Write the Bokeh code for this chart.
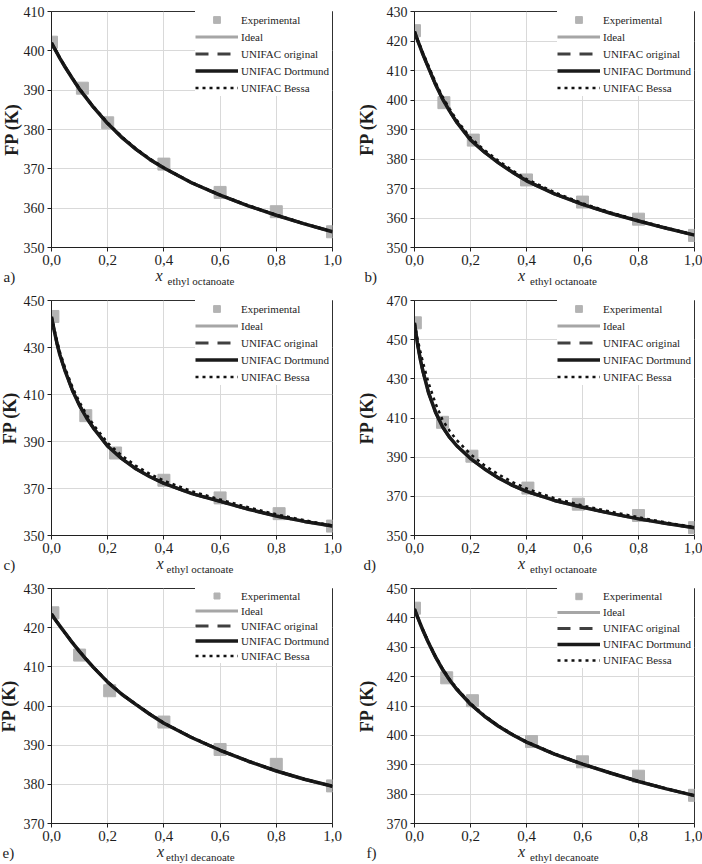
import math
from bokeh.plotting import figure
from bokeh.layouts import gridplot
from bokeh.models import (Range1d, FixedTicker, CustomJSTickFormatter, Label,
                          Legend, LegendItem)
from bokeh.embed import file_html
from bokeh.resources import INLINE

# ---------------- data ----------------
x_ticks = [0.0, 0.2, 0.4, 0.6, 0.8, 1.0]
x_calc = [0.0, 0.01, 0.02, 0.03, 0.05, 0.075, 0.1, 0.125, 0.15, 0.2, 0.25,
          0.3, 0.35, 0.4, 0.5, 0.6, 0.7, 0.8, 0.9, 1.0]

# a)
a_yticks = [350, 360, 370, 380, 390, 400, 410]
a_exp_x = [0.0, 0.11, 0.2, 0.4, 0.6, 0.8, 1.0]
a_exp_y = [402.2, 390.5, 381.7, 371.2, 364.0, 359.1, 354.0]
a_model = [402.0, 400.7, 399.4, 398.1, 395.7, 392.9, 390.2, 387.9, 385.6, 381.5,
           378.0, 375.0, 372.4, 370.2, 366.4, 363.3, 360.6, 358.2, 356.0, 354.0]
a_bessa = [402.0, 400.8, 399.5, 398.2, 395.8, 393.0, 390.4, 388.0, 385.8, 381.7,
           378.2, 375.2, 372.6, 370.3, 366.5, 363.4, 360.7, 358.3, 356.1, 354.0]

# b)
b_yticks = [350, 360, 370, 380, 390, 400, 410, 420, 430]
b_exp_x = [0.0, 0.105, 0.21, 0.4, 0.6, 0.8, 1.0]
b_exp_y = [423.5, 399.1, 386.4, 372.9, 365.4, 359.6, 354.1]
b_model = [423.2, 420.5, 418.0, 415.5, 410.9, 405.3, 400.4, 396.3, 392.6, 386.5,
           382.3, 378.7, 375.5, 372.6, 368.2, 364.6, 361.6, 359.0, 356.5, 354.2]
b_bessa = [423.2, 420.8, 418.4, 416.0, 411.6, 406.0, 401.1, 397.1, 393.3, 387.2,
           383.0, 379.4, 376.1, 373.2, 368.7, 365.0, 361.9, 359.2, 356.7, 354.2]

# c)
c_yticks = [350, 370, 390, 410, 430, 450]
c_exp_x = [0.005, 0.122, 0.228, 0.4, 0.6, 0.81, 1.0]
c_exp_y = [443.2, 401.0, 385.1, 373.5, 366.0, 359.3, 354.0]
c_model = [443.0, 437.0, 431.5, 426.8, 419.5, 411.6, 405.3, 400.0, 395.6, 388.0,
           382.7, 378.4, 375.0, 372.2, 367.8, 364.5, 361.2, 358.3, 356.0, 354.0]
c_bessa = [443.0, 437.8, 432.6, 428.0, 420.8, 413.0, 406.7, 401.4, 397.0, 389.4,
           384.0, 379.7, 376.2, 373.3, 368.8, 365.3, 362.0, 359.0, 356.5, 354.2]

# d)
d_yticks = [350, 370, 390, 410, 430, 450, 470]
d_exp_x = [0.003, 0.1, 0.205, 0.405, 0.585, 0.8, 1.0]
d_exp_y = [458.6, 407.8, 390.5, 374.2, 366.0, 360.2, 354.0]
d_model = [458.5, 448.5, 440.5, 434.0, 423.0, 413.0, 405.5, 400.2, 396.0, 389.3,
           384.0, 379.4, 375.6, 372.5, 367.9, 364.4, 361.3, 358.5, 356.1, 354.0]
d_bessa = [458.5, 451.0, 444.5, 438.5, 428.0, 417.5, 409.0, 403.5, 398.8, 391.5,
           385.8, 381.2, 377.3, 374.0, 369.0, 365.3, 362.2, 359.3, 356.6, 354.2]

# e)
e_yticks = [370, 380, 390, 400, 410, 420, 430]
e_exp_x = [0.005, 0.1, 0.207, 0.4, 0.6, 0.8, 1.0]
e_exp_y = [423.8, 413.0, 403.9, 395.9, 388.9, 385.1, 379.6]
e_model = [423.5, 422.4, 421.4, 420.4, 418.5, 416.1, 413.9, 411.8, 409.8, 406.1,
           403.0, 400.4, 397.9, 395.6, 391.9, 388.7, 385.9, 383.4, 381.3, 379.5]
e_bessa = [423.5, 422.4, 421.4, 420.4, 418.5, 416.2, 414.0, 411.9, 409.9, 406.2,
           403.1, 400.5, 398.0, 395.7, 392.0, 388.8, 386.0, 383.5, 381.3, 379.5]

# f)
f_yticks = [370, 380, 390, 400, 410, 420, 430, 440, 450]
f_exp_x = [0.0, 0.115, 0.207, 0.418, 0.6, 0.8, 1.0]
f_exp_y = [443.3, 419.6, 411.8, 397.9, 391.0, 386.1, 379.6]
f_model = [443.0, 440.5, 438.1, 435.8, 431.5, 426.7, 422.5, 418.9, 415.8, 410.6,
           406.5, 403.1, 400.2, 397.7, 393.6, 390.2, 387.2, 384.3, 381.8, 379.5]
f_bessa = [443.0, 440.6, 438.2, 436.0, 431.8, 427.0, 422.8, 419.2, 416.1, 410.9,
           406.8, 403.3, 400.4, 397.9, 393.8, 390.3, 387.3, 384.4, 381.9, 379.5]

series_names = ["Experimental", "Ideal", "UNIFAC original", "UNIFAC Dortmund", "UNIFAC Bessa"]

# ---------------- styling / layout ----------------
FONT = "Liberation Serif"
TXT = "#1e1e1e"
W, H = 351, 288
# estimated sizes of side-panel items (px)
AX_W, FP_W, X_W, LET_W = 28, 20, 7, 12
AX_H, SUB_H = 24, 12

panels = [
    # letter, subscript, yticks, exp_x, exp_y, model, bessa, borders(l,r,t,b), fp_cx, letter_x, pitch, col
    ("a)", "ethyl octanoate", a_yticks, a_exp_x, a_exp_y, a_model, a_bessa, (45, 17, 11, 41), 11, 3, 17, 0),
    ("b)", "ethyl octanoate", b_yticks, b_exp_x, b_exp_y, b_model, b_bessa, (60, 8, 11, 41), 15, 13, 17, 1),
    ("c)", "ethyl octanoate", c_yticks, c_exp_x, c_exp_y, c_model, c_bessa, (50, 18, 12, 41), 11, 3, 17, 0),
    ("d)", "ethyl octanoate", d_yticks, d_exp_x, d_exp_y, d_model, d_bessa, (55, 8, 12, 41), 15, 12, 17, 1),
    ("e)", "ethyl decanoate", e_yticks, e_exp_x, e_exp_y, e_model, e_bessa, (51, 17, 12, 41), 11, 2, 15, 0),
    ("f)", "ethyl decanoate", f_yticks, f_exp_x, f_exp_y, f_model, f_bessa, (60, 8, 12, 41), 15, 13, 16, 1),
]


def make_panel(letter, sub, yticks, ex, ey, model, bessa, borders, fp_cx, letter_x, pitch, col):
    bl, br, bt, bb = borders
    left_sum = AX_W + FP_W + (LET_W if col == 1 else 0)
    right_sum = X_W + (LET_W if col == 0 else 0)
    fl = max(bl, left_sum)
    frame_right = W - max(br, right_sum)
    fw = frame_right - fl

    p = figure(width=W, height=H, output_backend="svg", toolbar_location=None,
               x_range=Range1d(0, 1), y_range=Range1d(yticks[0], yticks[-1]),
               min_border_left=bl, min_border_right=br, min_border_top=bt,
               min_border_bottom=bb)
    fh = H - bt - max(bb, AX_H + SUB_H)
    p.background_fill_color = "white"
    p.border_fill_color = "white"
    p.outline_line_color = "#303030"
    p.outline_line_width = 1

    p.xaxis.ticker = FixedTicker(ticks=x_ticks)
    p.yaxis.ticker = FixedTicker(ticks=yticks)
    p.xaxis.formatter = CustomJSTickFormatter(code="return tick.toFixed(1).replace('.', ',');")
    for ax, fs in ((p.xaxis[0], "15px"), (p.yaxis[0], "14px")):
        ax.axis_line_color = "#202020"
        ax.major_tick_line_color = "#202020"
        ax.major_tick_out = 4
        ax.major_tick_in = 0
        ax.minor_tick_line_color = None
        ax.major_label_text_font = FONT
        ax.major_label_text_font_size = fs
        ax.major_label_text_color = TXT
        ax.major_label_standoff = 3
    p.xgrid.grid_line_color = "#d9d9d9"
    p.ygrid.grid_line_color = "#d9d9d9"

    r_exp = p.scatter(ex, ey, marker="square", size=12, color="#b3b3b3")
    r_ideal = p.line(x_calc, model, line_color="#a6a6a6", line_width=3)
    r_orig = p.line(x_calc, model, line_color="#404040", line_width=3, line_dash="13 9")
    r_dort = p.line(x_calc, model, line_color="#1a1a1a", line_width=3.5)
    r_bessa = p.line(x_calc, bessa, line_color="#111111", line_width=2.5, line_dash="3 4")

    items = [LegendItem(label=n, renderers=[r]) for n, r in
             zip(series_names, [r_exp, r_ideal, r_orig, r_dort, r_bessa])]
    leg = Legend(items=items, location="top_right", margin=0, padding=8, spacing=0,
                 glyph_width=43, glyph_height=pitch, label_height=pitch,
                 label_width=91, label_standoff=3,
                 label_text_font=FONT, label_text_font_size="11px",
                 label_text_color=TXT, border_line_color=None,
                 background_fill_color="white", background_fill_alpha=1.0)
    p.add_layout(leg)

    # --- titles placed in side panels (side panels are not clipped) ---
    fp_panel_left = fl - AX_W - FP_W
    p.add_layout(Label(x=fp_cx - fp_panel_left, y=fh / 2, x_units="screen", y_units="screen",
                       text="FP (K)", angle=math.pi / 2, text_align="center",
                       text_baseline="middle", text_font=FONT, text_font_size="18px",
                       text_font_style="bold", text_color=TXT), "left")
    # italic x (right panel)
    x_right = fl + fw / 2 - 28
    p.add_layout(Label(x=x_right - frame_right, y=-28, x_units="screen", y_units="screen",
                       text="x", text_align="right", text_baseline="alphabetic",
                       text_font=FONT, text_font_size="16px", text_font_style="italic",
                       text_color=TXT), "right")
    # subscript (below panel)
    p.add_layout(Label(x=fw / 2 - 26, y=(AX_H + SUB_H) - 37, x_units="screen", y_units="screen",
                       text=sub, text_align="left", text_baseline="alphabetic",
                       text_font=FONT, text_font_size="11px", text_color=TXT), "below")
    # panel letter
    if col == 0:
        let_panel_left = frame_right + X_W
        side = "right"
    else:
        let_panel_left = fp_panel_left - LET_W
        side = "left"
    p.add_layout(Label(x=letter_x - let_panel_left, y=-29, x_units="screen", y_units="screen",
                       text=letter, text_align="left", text_baseline="middle",
                       text_font=FONT, text_font_size="15px", text_color=TXT), side)
    return p


figs = [make_panel(*cfg) for cfg in panels]
grid = gridplot([[figs[0], figs[1]], [figs[2], figs[3]], [figs[4], figs[5]]],
                toolbar_location=None)

open("out.html", "w").write(file_html(grid, INLINE))
